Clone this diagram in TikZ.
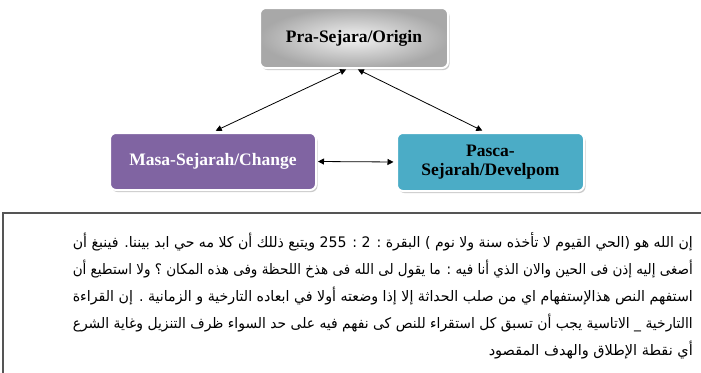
\documentclass[tikz,border=0pt]{standalone}
\usepackage{graphicx}
\usepackage{fontspec}
\setmainfont{Liberation Serif}
\newfontfamily\arabicfont[Script=Arabic]{DejaVu Sans}
\TeXXeTstate=1
\usetikzlibrary{arrows.meta,shadows}
\definecolor{masacol}{HTML}{8064A2}
\definecolor{pascacol}{HTML}{4BACC6}
\definecolor{framecol}{HTML}{555555}
\newsavebox\arbox
\newlength\arwidth
\setlength\arwidth{620pt}
\newcommand\arsize{\fontsize{14.5}{17}\selectfont}
\newcommand\jline[1]{%
  \sbox\arbox{\arabicfont\arsize\beginR #1\endR}%
  \ifdim\wd\arbox>\arwidth
    \resizebox{\arwidth}{\height}{\usebox\arbox}%
  \else
    \makebox[\arwidth][s]{\arabicfont\arsize\beginR #1\endR}%
  \fi}
\newcommand\pline[1]{{\arabicfont\arsize\beginR #1\endR}}
\tikzset{
  boxbase/.style={rounded corners=6pt, draw=white, line width=2pt, inner sep=2pt,
    font=\fontsize{17.5}{20}\selectfont\bfseries,
    drop shadow={shadow xshift=1.5pt, shadow yshift=-2pt, fill=black!35, opacity=0.6}},
  topbox/.style={boxbase, minimum width=188pt, minimum height=60pt,
    shading=radial, inner color=gray!10, outer color=gray!68},
  masabox/.style={boxbase, minimum width=206pt, minimum height=57pt, fill=masacol, text=white},
  pascabox/.style={boxbase, minimum width=187pt, minimum height=58pt, fill=pascacol,
    text=black, align=center},
  dbl/.style={{Triangle[length=6pt,width=6pt]}-{Triangle[length=6pt,width=6pt]}, line width=0.8pt, black},
  arline/.style={anchor=base east, inner sep=0pt}
}
\begin{document}
\begin{tikzpicture}[x=1pt,y=-1pt]
\useasboundingbox (0,0) rectangle (701,372);
\begin{scope}
\clip (0,0) rectangle (701,372);
\draw[framecol, line width=1.3pt] (3,213) rectangle (720,400);
\end{scope}

\node[topbox] (origin) at (354,38) {Pra-Sejara/Origin};
\node[masabox] (masa) at (213,161.5) {Masa-Sejarah/Change};
\node[pascabox] (pasca) at (490.5,162) {Pasca-\\[-1pt]Sejarah/Develpom};

\coordinate (oL) at ([xshift=-7pt]origin.south);
\coordinate (oR) at ([xshift=3pt]origin.south);
\coordinate (pN) at ([xshift=-5.5pt]pasca.north);
\draw[dbl, shorten >=3pt, shorten <=1pt] (oL) -- (masa.north);
\draw[dbl, shorten >=3pt, shorten <=1pt] (oR) -- (pN);
\draw[dbl, shorten >=2.5pt, shorten <=1pt] (masa.east) -- (pasca.west);

\node[arline] (l1) at (693,247) {\jline{إن الله هو (الحي القيوم لا تأخذه سنة ولا نوم ) البقرة : 2 : 255  ويتبع ذللك أن كلا مه حي ابد بيننا. فينبغ أن}};
\node[arline] (l2) at (693,274) {\jline{أصغى إليه إذن فى الحين  والان الذي أنا فيه : ما يقول لى الله فى هذخ اللحظة وفى هذه المكان ؟ ولا استطيع أن}};
\node[arline] (l3) at (693,301) {\jline{استفهم  النص هذالإستفهام اي من صلب الحداثة إلا إذا وضعته أولا في ابعاده التارخية و الزمانية . إن القراءة}};
\node[arline] (l4) at (693,328) {\jline{االتارخية \_ الاتاسية يجب أن تسبق كل استقراء للنص كى نفهم فيه على حد السواء ظرف التنزيل وغاية الشرع}};
\node[arline] (l5) at (693,355) {\pline{أي نقطة الإطلاق والهدف المقصود}};
\end{tikzpicture}
\end{document}
